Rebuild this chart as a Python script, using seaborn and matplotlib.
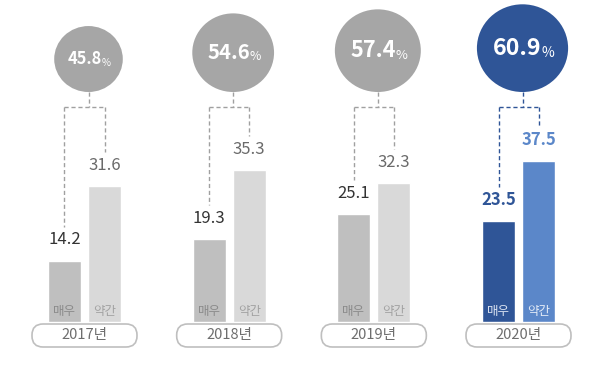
import pandas as pd
import matplotlib.pyplot as plt
import seaborn as sns
from matplotlib.patches import Ellipse, FancyBboxPatch

# ---------------------------------------------------------------
# Data
# ---------------------------------------------------------------
years = ["2017년", "2018년", "2019년", "2020년"]
levels = ["매우", "약간"]
very = [14.2, 19.3, 25.1, 23.5]
somewhat = [31.6, 35.3, 32.3, 37.5]
total = [45.8, 54.6, 57.4, 60.9]

df = pd.DataFrame({
    "year": years * 2,
    "level": [levels[0]] * 4 + [levels[1]] * 4,
    "value": very + somewhat,
})

# ---------------------------------------------------------------
# Styling
# ---------------------------------------------------------------
GRAY_DARK, GRAY_LIGHT, GRAY_CIRCLE = "#bfbfbf", "#d9d9d9", "#a6a6a6"
BLUE_DARK, BLUE_LIGHT = "#2f5597", "#5b87c9"
PX_X, PX_Y = 144.67, 4.3       # pixels per data unit (x, y)

sns.set_theme(style="white")
plt.rcParams["font.family"] = ["Noto Sans CJK KR", "DejaVu Sans"]

fig = plt.figure(figsize=(6, 3.67), dpi=100)
ax = fig.add_axes([0, 0, 1, 1])

sns.barplot(data=df, x="year", y="value", hue="level", hue_order=levels,
            order=years, palette=[GRAY_DARK, GRAY_LIGHT], width=0.553,
            gap=0.175, errorbar=None, legend=False, ax=ax, zorder=2)

ax.set_xlim(-84.5 / PX_X, (600 - 84.5) / PX_X)
ax.set_ylim(-(367 - 322) / PX_Y, 322 / PX_Y)
ax.axis("off")

dash = (0, (3, 2))
bars_very = list(ax.containers[0])
bars_some = list(ax.containers[1])

for i, year in enumerate(years):
    hl = i == len(years) - 1
    b1, b2 = bars_very[i], bars_some[i]
    if hl:
        b1.set_facecolor(BLUE_DARK)
        b2.set_facecolor(BLUE_LIGHT)
    x1 = b1.get_x() + b1.get_width() / 2
    x2 = b2.get_x() + b2.get_width() / 2
    gx = (x1 + x2) / 2
    line_c = BLUE_DARK if hl else "#a0a0a0"

    # value labels above bars
    for b, x, v, c in [(b1, x1, very[i], BLUE_DARK if hl else "#333333"),
                       (b2, x2, somewhat[i], BLUE_LIGHT if hl else "#6a6a6a")]:
        ax.text(x, v + 21 / PX_Y, f"{v:.1f}", ha="center", va="center",
                fontsize=12, color=c, fontweight="bold" if hl else "normal")

    # labels inside bars
    for x, lab, c in [(x1, levels[0], "#dce4f2" if hl else "#8a8a8a"),
                      (x2, levels[1], "#e3ebf7" if hl else "#a2a2a2")]:
        ax.text(x, 10 / PX_Y, lab, ha="center", va="center", fontsize=9,
                color=c)

    # circle with total
    r = 0.72 * total[i]
    cx = gx + 4 / PX_X
    bottom = (322 - 92) / PX_Y
    cy = bottom + r / PX_Y
    ax.add_patch(Ellipse((cx, cy), 2 * r * 1.04 / PX_X, 2 * r / PX_Y,
                         facecolor=BLUE_DARK if hl else GRAY_CIRCLE,
                         edgecolor="none", zorder=3))
    fs = 0.45 * r - 3
    num = ax.text(cx - fs * 0.3 / PX_X, cy, f"{total[i]:.1f}", ha="center",
                  va="center", fontsize=fs, color="white", fontweight="bold",
                  zorder=4)
    ax.annotate("%", xy=(1, 0), xycoords=num, xytext=(-0.5, 0),
                textcoords="offset points", ha="left", va="bottom",
                fontsize=fs * 0.6, color="white", zorder=4)

    # dashed connectors
    hy = (322 - 107) / PX_Y
    ax.plot([cx, cx], [bottom, hy], ls=dash, lw=1, color=line_c, zorder=1)
    ax.plot([x1, x2], [hy, hy], ls=dash, lw=1, color=line_c, zorder=1)
    for x, v in [(x1, very[i]), (x2, somewhat[i])]:
        ax.plot([x, x], [hy, v + 34 / PX_Y], ls=dash, lw=1, color=line_c,
                zorder=1)

    # year pill
    pw, ph = 105 / PX_X, 23 / PX_Y
    py = -(324 - 322) / PX_Y - ph
    ax.add_patch(FancyBboxPatch((gx - pw / 2, py), pw, ph,
                                boxstyle=f"round,pad=0,rounding_size={11 / PX_X}",
                                mutation_aspect=PX_X / PX_Y,
                                facecolor="white", edgecolor="#bfbfbf",
                                lw=1.2, zorder=3))
    ax.text(gx, py + ph / 2, year, ha="center", va="center", fontsize=10.5,
            color="#6e6e6e", zorder=4)

fig.savefig("out.png", dpi=100)
